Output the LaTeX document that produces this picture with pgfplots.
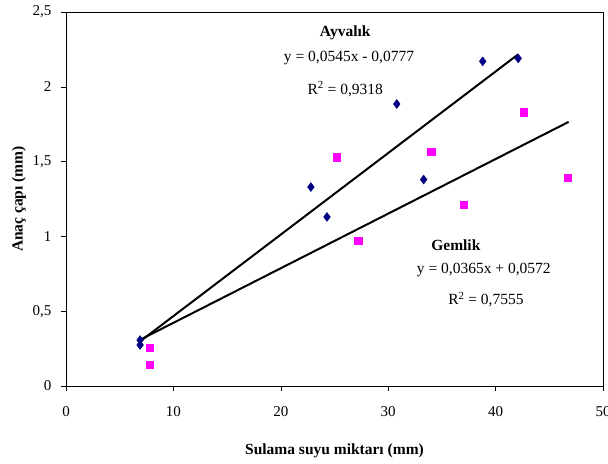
\documentclass[border=0pt]{standalone}
\usepackage{pgfplots}
\pgfplotsset{compat=1.18}
\usepackage{fontspec}
\setmainfont{Liberation Serif}
\usetikzlibrary{calc}
\definecolor{navyd}{RGB}{0,0,128}
\definecolor{magd}{RGB}{255,0,255}
\begin{document}
\begin{tikzpicture}
\begin{axis}[name=ax,
  scale only axis, width=537pt, height=374pt,
  xmin=0, xmax=50, ymin=0, ymax=2.5,
  xtick={0,10,...,50}, ytick={0,0.5,...,2.5},
  tick align=outside, major tick length=5pt,
  tick style={black, line width=0.6pt},
  axis line style={black, line width=0.6pt},
  /pgf/number format/assume math mode=true,
  /pgf/number format/use comma,
  ticklabel style={font=\fontsize{15}{17}\selectfont},
  xticklabel style={yshift=-12pt},
  yticklabel style={xshift=-6pt},
  xtick pos=bottom, ytick pos=left,
  xlabel={\textbf{Sulama suyu miktarı (mm)}},
  ylabel={\textbf{Anaç çapı (mm)}},
  label style={font=\fontsize{15.5}{17}\selectfont},
  xlabel style={yshift=-20pt},
  ylabel style={yshift=0pt},
  clip=false,
]
\addplot[only marks, mark=diamond*, mark size=4.5pt, navyd, mark options={fill=navyd, draw=navyd}] coordinates {
(6.9,0.307) (6.9,0.274) (22.8,1.33) (24.3,1.13) (30.8,1.885) (33.3,1.38) (38.8,2.17) (42.1,2.19)
};
\addplot[only marks, mark=square*, mark size=3.6pt, magd, mark options={fill=magd, draw=magd}] coordinates {
(7.8,0.255) (7.8,0.14) (25.2,1.53) (27.2,0.97) (34.0,1.565) (37.0,1.21) (42.6,1.83) (46.7,1.39)
};
\addplot[black, line width=2pt] coordinates {(6.9,0.2984) (42.1,2.2168)};
\addplot[black, line width=2pt] coordinates {(6.9,0.3091) (46.8,1.7654)};
\node[font=\fontsize{15.5}{17}\selectfont\bfseries] at (axis cs:26.0,2.36) {Ayvalık};
\node[font=\fontsize{15.5}{17}\selectfont] at (axis cs:26.35,2.19) {y = 0,0545x - 0,0777};
\node[font=\fontsize{15.5}{17}\selectfont] at (axis cs:26.0,1.985) {R\textsuperscript{2} = 0,9318};
\node[font=\fontsize{15.5}{17}\selectfont\bfseries] at (axis cs:36.3,0.943) {Gemlik};
\node[font=\fontsize{15.5}{17}\selectfont] at (axis cs:38.9,0.775) {y = 0,0365x + 0,0572};
\node[font=\fontsize{15.5}{17}\selectfont] at (axis cs:39.1,0.58) {R\textsuperscript{2} = 0,7555};
\end{axis}
\pgfresetboundingbox
\path ([shift={(-66pt,-77pt)}]ax.south west) rectangle ([shift={(5pt,12pt)}]ax.north east);
\end{tikzpicture}
\end{document}
